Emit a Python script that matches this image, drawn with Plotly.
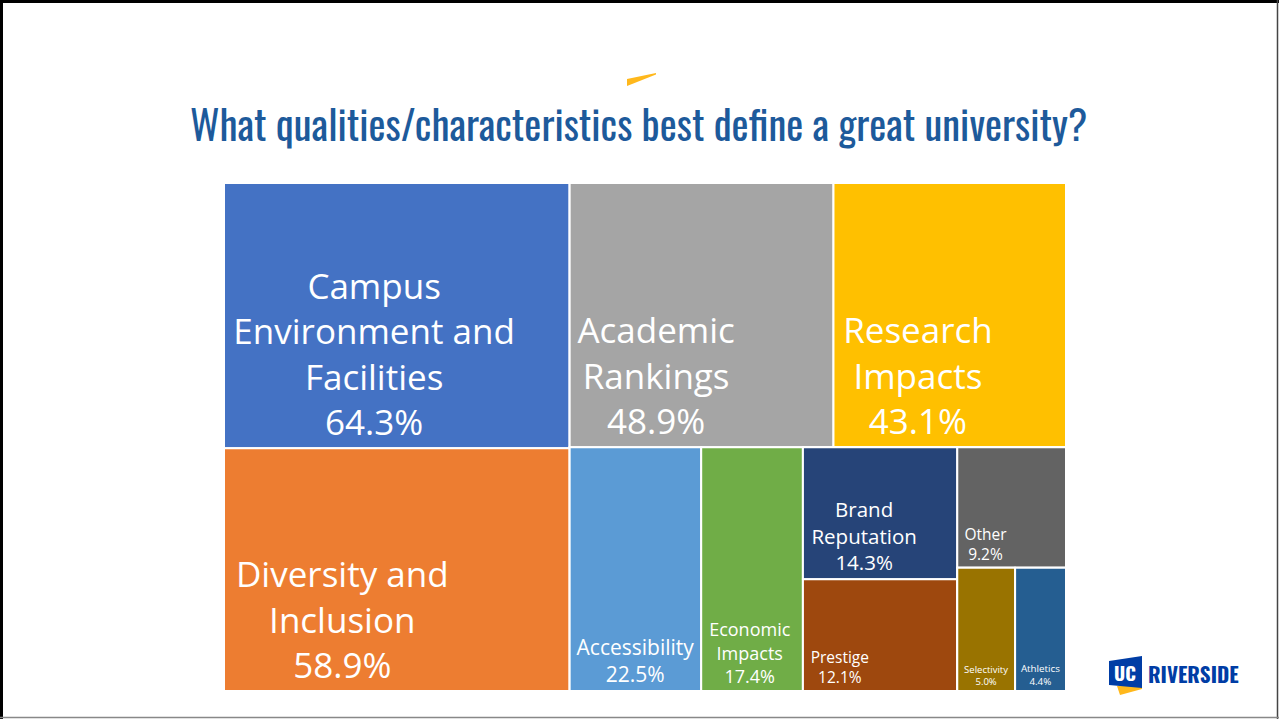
"""
plot.py
-------
Treemap of the survey question "What qualities/characteristics best define a
great university?" laid out like the original slide.
"""
import plotly.graph_objects as go

W, H = 1279, 719

# ---- data -------------------------------------------------------------
CATEGORIES = [
    "Campus Environment and Facilities",
    "Diversity and Inclusion",
    "Academic Rankings",
    "Research Impacts",
    "Accessibility",
    "Economic Impacts",
    "Brand Reputation",
    "Prestige",
    "Other",
    "Selectivity",
    "Athletics",
]
SHARES = [64.3, 58.9, 48.9, 43.1, 22.5, 17.4, 14.3, 12.1, 9.2, 5.0, 4.4]
TILE_LINES = [
    ["Campus", "Environment and", "Facilities"],
    ["Diversity and", "Inclusion"],
    ["Academic", "Rankings"],
    ["Research", "Impacts"],
    ["Accessibility"],
    ["Economic", "Impacts"],
    ["Brand", "Reputation"],
    ["Prestige"],
    ["Other"],
    ["Selectivity"],
    ["Athletics"],
]

# ---- style ------------------------------------------------------------
COLORS = ["#4472C4", "#ED7D31", "#A5A5A5", "#FFC000", "#5B9BD5", "#70AD47",
          "#264478", "#9E480E", "#636363", "#997300", "#255E91"]
FONT_SIZES = [35, 35, 35, 35, 21, 18, 20.5, 15.5, 15.5, 9.5, 9.8]
# trailing no-break spaces nudge the centred label block towards the left,
# like the slide's left-anchored labels
LEFT_NUDGE = [5, 12, 10, 7, 0, 1, 6, 20, 13, 0, 0]

# grouping of the tiles (index into CATEGORIES) so slice-dice reproduces
# the slide's arrangement
LAYOUT_TREE = ("all", [
    ("left", [0, 1]),
    ("right", [
        ("top", [2, 3]),
        ("bottom", [4, 5, ("bp", [6, 7]), ("small", [8, ("pair", [9, 10])])]),
    ]),
])

ids, parents, labels, values, texts, colors, sizes = [], [], [], [], [], [], []


def tile_text(i):
    pad = "\u00a0" * LEFT_NUDGE[i]
    lines = TILE_LINES[i] + [f"{SHARES[i]:.1f}%"]
    return "<br>".join(line + pad for line in lines)


def add_node(node, parent):
    if isinstance(node, int):
        ids.append(f"c{node}")
        parents.append(parent)
        labels.append(CATEGORIES[node])
        values.append(SHARES[node])
        texts.append(tile_text(node))
        colors.append(COLORS[node])
        sizes.append(FONT_SIZES[node])
        return
    name, children = node
    ids.append(name)
    parents.append(parent)
    labels.append(name)
    values.append(0)
    texts.append("")
    colors.append("white")
    sizes.append(10)
    for child in children:
        add_node(child, name)


add_node(LAYOUT_TREE, "")


def px(x):
    return x / W


def py(y):
    return 1 - y / H


fig = go.Figure(go.Treemap(
    ids=ids, parents=parents, labels=labels, values=values, text=texts,
    branchvalues="remainder", sort=False,
    textinfo="text", textposition="bottom center",
    textfont=dict(family="Open Sans", size=sizes, color="white"),
    marker=dict(colors=colors, line=dict(color="white", width=2),
                pad=dict(t=0, l=0, r=0, b=0)),
    tiling=dict(packing="slice-dice", pad=0),
    pathbar=dict(visible=False),
    hoverinfo="label+value",
    domain=dict(x=[px(224), px(1066)], y=[py(691), py(183)]),
))

shapes = [
    # slide frame
    dict(type="line", x0=px(1.5), x1=px(1.5), y0=0, y1=1, line=dict(color="black", width=3)),
    dict(type="line", x0=0, x1=1, y0=py(1.5), y1=py(1.5), line=dict(color="black", width=3)),
    dict(type="line", x0=px(1277.5), x1=px(1277.5), y0=0, y1=1, line=dict(color="#444", width=1.5)),
    dict(type="line", x0=0, x1=1, y0=py(717.5), y1=py(717.5), line=dict(color="#888", width=1.5)),
    # gold accent above the title
    dict(type="path", line=dict(width=0), fillcolor="#FFB81C",
         path=f"M {px(627)} {py(79)} L {px(656)} {py(73)} L {px(656)} {py(74.5)} L {px(627)} {py(86)} Z"),
    # UCR logo block
    dict(type="path", line=dict(width=0), fillcolor="#FFB81C",
         path=f"M {px(1117)} {py(686)} L {px(1142)} {py(683)} L {px(1142)} {py(689)} L {px(1120)} {py(695)} Z"),
    dict(type="path", line=dict(width=0), fillcolor="#003DA5",
         path=f"M {px(1109)} {py(661)} L {px(1142)} {py(656)} L {px(1142)} {py(688)} L {px(1109)} {py(685)} Z"),
]

cond = "Oswald, Roboto Condensed, Liberation Sans Narrow, DejaVu Sans Condensed, sans-serif"
annotations = [
    dict(text="What qualities/characteristics best define a great university?",
         x=px(638), y=py(123), xref="paper", yref="paper", showarrow=False,
         xanchor="center", yanchor="middle",
         font=dict(family=cond, size=40.5, color="#1D5A9B")),
    dict(text="<b>UC</b>", x=px(1125), y=py(672), xref="paper", yref="paper",
         showarrow=False, xanchor="center", yanchor="middle",
         font=dict(family=cond, size=19, color="white")),
    dict(text="<b>RIVERSIDE</b>", x=px(1146), y=py(673), xref="paper", yref="paper",
         showarrow=False, xanchor="left", yanchor="middle",
         font=dict(family=cond, size=21, color="#003DA5")),
]

fig.update_layout(
    width=W, height=H,
    margin=dict(l=0, r=0, t=0, b=0),
    paper_bgcolor="white",
    shapes=shapes,
    annotations=annotations,
    showlegend=False,
)

fig.write_html("out.html", config={"displayModeBar": False},
               post_script="document.body.style.margin='0';document.body.style.overflow='hidden';")
